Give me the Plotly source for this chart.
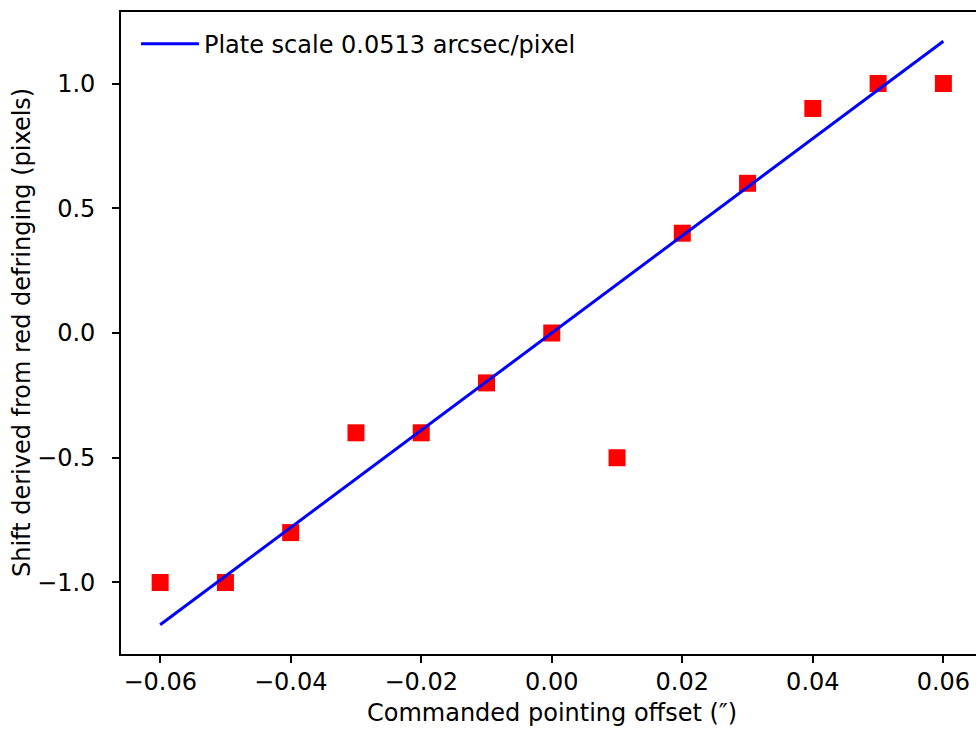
import numpy as np
import plotly.graph_objects as go

# Commanded pointing offsets (arcsec) and measured shifts (pixels)
offset_arcsec = [-0.06, -0.05, -0.04, -0.03, -0.02, -0.01, 0.00, 0.01, 0.02, 0.03, 0.04, 0.05, 0.06]
shift_pixels = [-1.0, -1.0, -0.8, -0.4, -0.4, -0.2, 0.0, -0.5, 0.4, 0.6, 0.9, 1.0, 1.0]

# Linear model for the plate scale
plate_scale = 0.0513  # arcsec / pixel
fit_x = [offset_arcsec[0], offset_arcsec[-1]]
fit_y = [x / plate_scale for x in fit_x]

x_ticks = [-0.06, -0.04, -0.02, 0.00, 0.02, 0.04, 0.06]
x_ticklabels = ["\u22120.06", "\u22120.04", "\u22120.02", "0.00", "0.02", "0.04", "0.06"]
y_ticks = [-1.0, -0.5, 0.0, 0.5, 1.0]
y_ticklabels = ["\u22121.0", "\u22120.5", "0.0", "0.5", "1.0"]

FONT = "DejaVu Sans"
FS = 24
W, H = 976, 731
ML, MT, MB, MR = 121, 12, 77, 0

fig = go.Figure()
fig.add_trace(go.Scatter(
    x=offset_arcsec, y=shift_pixels, mode="markers",
    marker=dict(symbol="square", size=17, color="#ff0000", line=dict(width=0)),
    showlegend=False,
))
fig.add_trace(go.Scatter(
    x=fit_x, y=fit_y, mode="lines",
    line=dict(color="#0000ff", width=3),
    name="Plate scale 0.0513 arcsec/pixel",
))

axis_common = dict(
    showgrid=False, zeroline=False, showline=True, linecolor="black", linewidth=1.7,
    ticks="outside", ticklen=7, tickwidth=1.7, tickcolor="black",
    tickfont=dict(family=FONT, size=FS, color="black"),
)
fig.update_layout(
    width=W, height=H,
    margin=dict(l=ML, r=MR, t=MT, b=MB, autoexpand=False),
    paper_bgcolor="white", plot_bgcolor="white",
    font=dict(family=FONT, size=FS, color="black"),
    xaxis=dict(range=[-0.066, 0.065], tickvals=x_ticks, ticktext=x_ticklabels,
               mirror=True, ticklabelstandoff=-2, **axis_common),
    yaxis=dict(range=[-1.2866, 1.2866], tickvals=y_ticks, ticktext=y_ticklabels,
               mirror=False, ticklabelstandoff=12, **axis_common),
    legend=dict(x=0.0175, y=0.985, xanchor="left", yanchor="top", itemwidth=58,
                bgcolor="rgba(255,255,255,0)", font=dict(family=FONT, size=FS)),
    annotations=[
        dict(text="Commanded pointing offset (\u2033)", xref="paper", yref="paper",
             x=0.5037, y=-(713 - (H - MB)) / (H - MT - MB), showarrow=False,
             xanchor="center", yanchor="middle", font=dict(family=FONT, size=FS)),
        dict(text="Shift derived from red defringing (pixels)", xref="paper", yref="paper",
             x=(22 - ML) / (W - ML - MR), y=0.5, showarrow=False, textangle=-90,
             xanchor="center", yanchor="middle", font=dict(family=FONT, size=FS)),
    ],
)

fig.write_html("out.html")
